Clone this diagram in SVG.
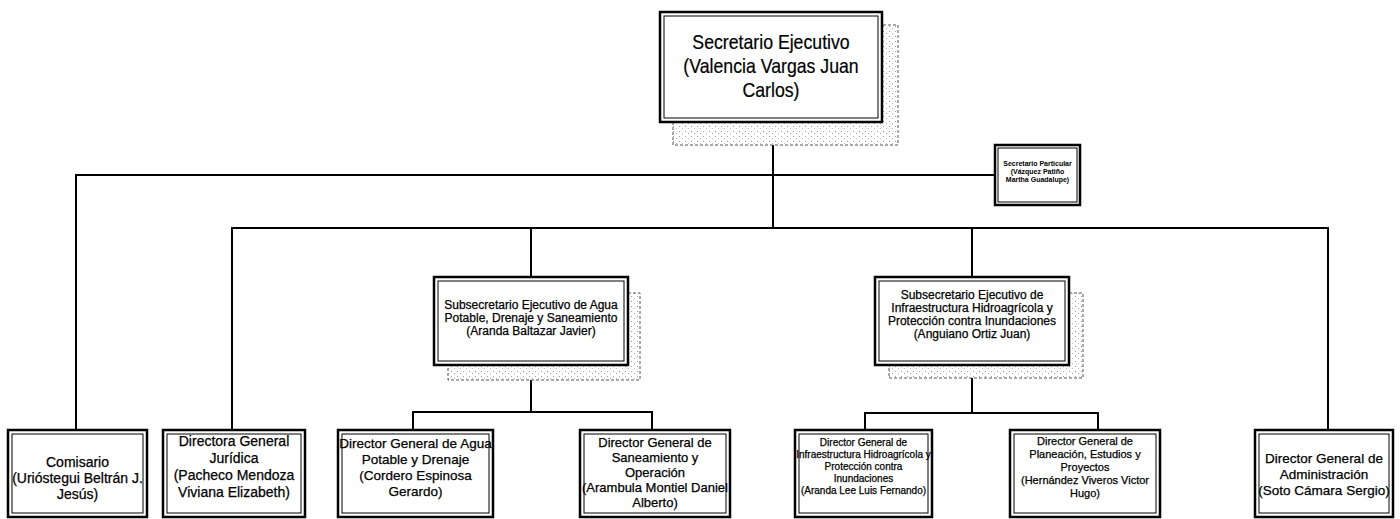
<svg xmlns="http://www.w3.org/2000/svg" width="1400" height="519" viewBox="0 0 1400 519">
<style>
.bg{fill:#ffffff}
.outer{fill:#ffffff;stroke:#000;stroke-width:2.5}
.inner{fill:none;stroke:#000;stroke-width:1}
.shadow{fill:url(#speck);stroke:#555;stroke-width:1;stroke-dasharray:3 2}
.conn{fill:none;stroke:#000;stroke-width:2}
text{font-family:"Liberation Sans",Arial,sans-serif;fill:#000;text-anchor:middle;stroke:#000;stroke-width:0.25}
.t1{font-size:20px;stroke-width:0.2}
.t2{font-size:12px}
.t3{font-size:7px;font-weight:bold;stroke-width:0}
</style>
<defs>
<pattern id="speck" width="6" height="5" patternUnits="userSpaceOnUse">
<rect width="6" height="5" fill="#ffffff"/>
<rect x="1" y="1" width="1" height="1" fill="#9a9a9a"/>
<rect x="4" y="3" width="1" height="1" fill="#b5b5b5"/>
</pattern>
</defs>
<rect class="bg" x="0" y="0" width="1400" height="519"/>

<g id="connectors">
<path class="conn" d="M773 122 V228"/>
<path class="conn" d="M76 430 V175 H995"/>
<path class="conn" d="M232 430 V228 H1328 V430"/>
<path class="conn" d="M531 228 V277"/>
<path class="conn" d="M972 228 V277"/>
<path class="conn" d="M531 365 V412"/>
<path class="conn" d="M413 430 V412 H652 V430"/>
<path class="conn" d="M972 365 V413"/>
<path class="conn" d="M865 430 V413 H1098 V430"/>
</g>

<g id="secretario-ejecutivo">
<rect class="shadow" x="673" y="25" width="225" height="120"/>
<rect class="outer" x="660" y="12" width="222" height="110"/>
<rect class="inner" x="664" y="16" width="214" height="102"/>
<g transform="translate(771 0) scale(0.885 1)">
<text class="t1" x="0" y="49">Secretario Ejecutivo</text>
<text class="t1" x="0" y="73">(Valencia Vargas Juan</text>
<text class="t1" x="0" y="97">Carlos)</text>
</g>
</g>

<g id="secretario-particular">
<rect class="outer" x="995" y="145" width="85" height="60"/>
<rect class="inner" x="998" y="148" width="79" height="54"/>
<text class="t3" x="1037.5" y="166">Secretario Particular</text>
<text class="t3" x="1037.5" y="174">(Vázquez Patiño</text>
<text class="t3" x="1037.5" y="182">Martha Guadalupe)</text>
</g>

<g id="subsecretario-agua">
<rect class="shadow" x="448" y="293" width="192" height="87"/>
<rect class="outer" x="434" y="277" width="194" height="88"/>
<rect class="inner" x="438" y="281" width="186" height="80"/>
<text class="t2" x="531" y="309">Subsecretario Ejecutivo de Agua</text>
<text class="t2" x="531" y="322">Potable, Drenaje y Saneamiento</text>
<text class="t2" x="531" y="335">(Aranda Baltazar Javier)</text>
</g>

<g id="subsecretario-infraestructura">
<rect class="shadow" x="889" y="293" width="194" height="85"/>
<rect class="outer" x="875" y="277" width="194" height="88"/>
<rect class="inner" x="879" y="281" width="186" height="80"/>
<text class="t2" x="972" y="299">Subsecretario Ejecutivo de</text>
<text class="t2" x="972" y="312">Infraestructura Hidroagrícola y</text>
<text class="t2" x="972" y="325">Protección contra Inundaciones</text>
<text class="t2" x="972" y="338">(Anguiano Ortiz Juan)</text>
</g>

<g id="comisario" font-size="14">
<rect class="outer" x="8" y="430" width="139" height="87"/>
<rect class="inner" x="12" y="434" width="131" height="79"/>
<text x="77.5" y="467">Comisario</text>
<text x="77.5" y="483">(Urióstegui Beltrán J.</text>
<text x="77.5" y="499">Jesús)</text>
</g>

<g id="directora-juridica" font-size="14">
<rect class="outer" x="163" y="430" width="142" height="87"/>
<rect class="inner" x="167" y="434" width="134" height="79"/>
<text x="234" y="446">Directora General</text>
<text x="234" y="463">Jurídica</text>
<text x="234" y="480">(Pacheco Mendoza</text>
<text x="234" y="497">Viviana Elizabeth)</text>
</g>

<g id="director-agua-potable" font-size="13.5">
<rect class="outer" x="338" y="430" width="155" height="87"/>
<rect class="inner" x="342" y="434" width="147" height="79"/>
<text x="415.5" y="448">Director General de Agua</text>
<text x="415.5" y="464">Potable y Drenaje</text>
<text x="415.5" y="480">(Cordero Espinosa</text>
<text x="415.5" y="496">Gerardo)</text>
</g>

<g id="director-saneamiento" font-size="13">
<rect class="outer" x="580" y="430" width="150" height="87"/>
<rect class="inner" x="584" y="434" width="142" height="79"/>
<text x="655" y="447">Director General de</text>
<text x="655" y="462">Saneamiento y</text>
<text x="655" y="477">Operación</text>
<text x="655" y="492">(Arambula Montiel Daniel</text>
<text x="655" y="507">Alberto)</text>
</g>

<g id="director-infraestructura" font-size="10">
<rect class="outer" x="795" y="430" width="137" height="87"/>
<rect class="inner" x="799" y="434" width="129" height="79"/>
<text x="863.5" y="446">Director General de</text>
<text x="863.5" y="458">Infraestructura Hidroagrícola y</text>
<text x="863.5" y="470">Protección contra</text>
<text x="863.5" y="482">Inundaciones</text>
<text x="863.5" y="494">(Aranda Lee Luis Fernando)</text>
</g>

<g id="director-planeacion" font-size="11">
<rect class="outer" x="1010" y="430" width="150" height="87"/>
<rect class="inner" x="1014" y="434" width="142" height="79"/>
<text x="1085" y="445">Director General de</text>
<text x="1085" y="458">Planeación, Estudios y</text>
<text x="1085" y="471">Proyectos</text>
<text x="1085" y="484">(Hernández Viveros Victor</text>
<text x="1085" y="497">Hugo)</text>
</g>

<g id="director-administracion" font-size="13.5">
<rect class="outer" x="1255" y="430" width="138" height="87"/>
<rect class="inner" x="1259" y="434" width="130" height="79"/>
<text x="1324" y="463">Director General de</text>
<text x="1324" y="479">Administración</text>
<text x="1324" y="495">(Soto Cámara Sergio)</text>
</g>
</svg>
